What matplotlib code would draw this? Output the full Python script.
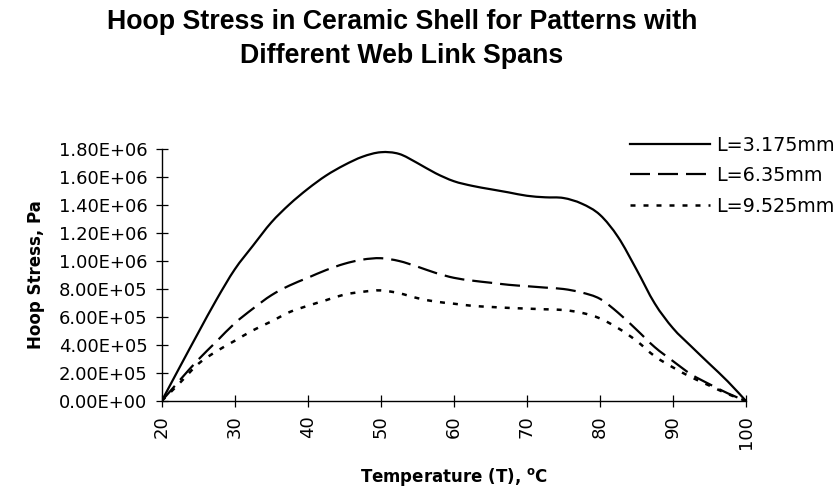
import matplotlib
matplotlib.use("Agg")
import matplotlib.pyplot as plt
from matplotlib.path import Path
from matplotlib.patches import PathPatch
from matplotlib.lines import Line2D

# temperature (C) and hoop stress (Pa)
temps = [20, 22.5, 25, 27.5, 30, 32.5, 35, 37.5, 40, 42.5, 45, 47.5, 50, 52.5, 55,
         57.5, 60, 62.5, 65, 67.5, 70, 72.5, 75, 77.5, 80, 82.5, 85, 87.5, 90,
         92.5, 95, 97.5, 100]

stress_3175 = [0, 2.45e5, 4.87e5, 7.24e5, 9.4e5, 1.11e6, 1.275e6, 1.405e6, 1.515e6, 1.61e6,
               1.685e6, 1.745e6, 1.777e6, 1.765e6, 1.70e6, 1.627e6, 1.57e6, 1.537e6,
               1.513e6, 1.49e6, 1.466e6, 1.455e6, 1.45e6, 1.41e6, 1.33e6, 1.17e6,
               9.4e5, 6.97e5, 5.2e5, 3.9e5, 2.65e5, 1.4e5, 0]

stress_635 = [0, 1.5e5, 2.95e5, 4.25e5, 5.55e5, 6.6e5, 7.55e5, 8.25e5, 8.8e5, 9.35e5,
              9.8e5, 1.01e6, 1.02e6, 1.0e6, 9.6e5, 9.15e5, 8.8e5, 8.6e5, 8.45e5,
              8.3e5, 8.2e5, 8.1e5, 8.0e5, 7.75e5, 7.3e5, 6.3e5, 5.1e5, 3.85e5,
              2.85e5, 1.9e5, 1.2e5, 5.5e4, 0]

stress_9525 = [0, 1.3e5, 2.65e5, 3.55e5, 4.3e5, 5.05e5, 5.68e5, 6.35e5, 6.8e5, 7.2e5,
               7.6e5, 7.8e5, 7.9e5, 7.7e5, 7.35e5, 7.1e5, 6.95e5, 6.8e5, 6.72e5,
               6.65e5, 6.6e5, 6.55e5, 6.5e5, 6.3e5, 5.9e5, 5.2e5, 4.3e5, 3.2e5,
               2.4e5, 1.7e5, 1.1e5, 5e4, 0]

series_labels = ['L=3.175mm', 'L=6.35mm', 'L=9.525mm']

x_ticks = [20, 30, 40, 50, 60, 70, 80, 90, 100]
y_ticks = [0, 2e5, 4e5, 6e5, 8e5, 1e6, 1.2e6, 1.4e6, 1.6e6, 1.8e6]
y_tick_labels = ['0.00E+00', '2.00E+05', '4.00E+05', '6.00E+05', '8.00E+05',
                 '1.00E+06', '1.20E+06', '1.40E+06', '1.60E+06', '1.80E+06']


def smooth_path(xs, ys):
    # excel-like smoothed line: catmull-rom segments as cubic beziers
    n = len(xs)
    verts = [(xs[0], ys[0])]
    codes = [Path.MOVETO]
    for i in range(n - 1):
        a, b = max(i - 1, 0), min(i + 2, n - 1)
        c1 = (xs[i] + (xs[i + 1] - xs[a]) / 6, ys[i] + (ys[i + 1] - ys[a]) / 6)
        c2 = (xs[i + 1] - (xs[b] - xs[i]) / 6, ys[i + 1] - (ys[b] - ys[i]) / 6)
        verts += [c1, c2, (xs[i + 1], ys[i + 1])]
        codes += [Path.CURVE4] * 3
    return Path(verts, codes)


W, H = 836, 491
fig = plt.figure(figsize=(W / 100, H / 100), dpi=100)
ax = fig.add_axes([161.7 / W, 1 - 401 / H, (746 - 161.7) / W, (401 - 149) / H])

styles = [dict(lw=1.6, ls='-'),
          dict(lw=1.6, ls=(0, (9, 3.6))),
          dict(lw=1.8, ls=(0, (2, 3.2)))]
handles = []
for ys, st, lab in zip([stress_3175, stress_635, stress_9525], styles, series_labels):
    ax.add_patch(PathPatch(smooth_path(temps, ys), fill=False, edgecolor='black',
                           linewidth=st['lw'], linestyle=st['ls'], capstyle='butt'))
    handles.append(Line2D([], [], color='black', linewidth=st['lw'], linestyle=st['ls']))

ax.set_xlim(20, 100)
ax.set_ylim(0, 1.8e6)
ax.set_xticks(x_ticks)
ax.set_xticklabels([str(t) for t in x_ticks], rotation=90)
ax.set_yticks(y_ticks)
ax.set_yticklabels(y_tick_labels)

for s in ['top', 'right']:
    ax.spines[s].set_visible(False)
for s in ['left', 'bottom']:
    ax.spines[s].set_linewidth(1.0)
ax.tick_params(direction='inout', length=8.6, width=0.9, labelsize=13)
ax.tick_params(axis='y', pad=6)
ax.tick_params(axis='x', pad=6)
ax.patch.set_visible(False)

lab_font = dict(family='DejaVu Sans', weight='bold', fontsize=12)
ax.set_ylabel('Hoop Stress, Pa', labelpad=10, **lab_font)
ax.set_xlabel('Temperature (T), $^{\\mathregular{o}}$C', labelpad=12, **lab_font)

title_font = dict(family='Liberation Sans', weight='bold', fontsize=19.3)
fig.text(402 / W, 1 - 29 / H, 'Hoop Stress in Ceramic Shell for Patterns with',
         ha='center', va='baseline', **title_font)
fig.text(402 / W, 1 - 63 / H, 'Different Web Link Spans',
         ha='center', va='baseline', **title_font)

fig.legend(handles, series_labels, loc='upper left', bbox_to_anchor=(622 / W, 1 - 128 / H),
           frameon=False, fontsize=13.8, handlelength=4.2, handletextpad=0.3,
           labelspacing=0.6, borderaxespad=0)

fig.savefig('out.png', dpi=100)
